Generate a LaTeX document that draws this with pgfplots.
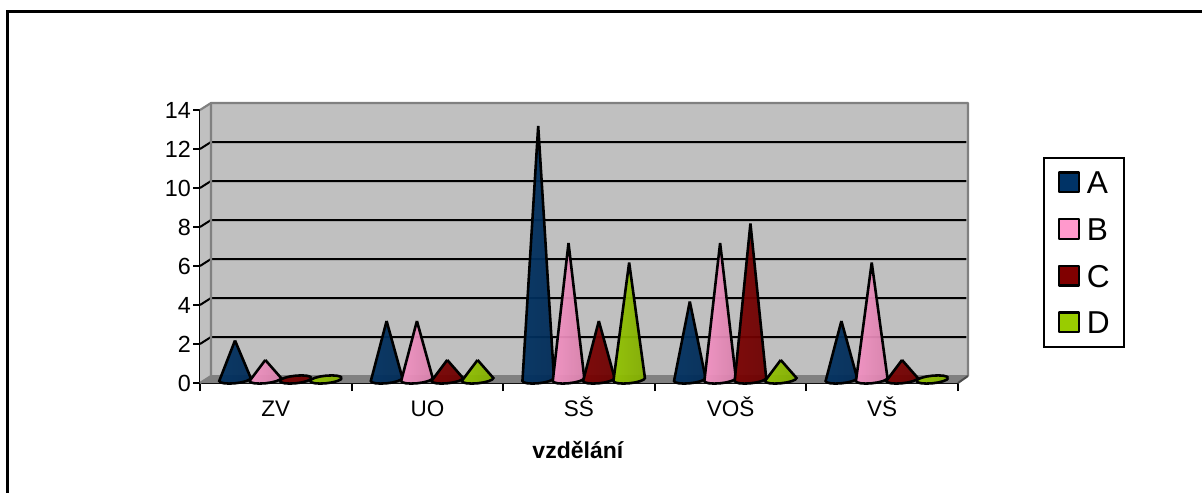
\documentclass[border=0pt]{standalone}
\usepackage{pgfplots}
\pgfplotsset{compat=1.18}
\usepackage{fontspec}
\setmainfont{Liberation Sans}
\definecolor{cA}{HTML}{003366}
\definecolor{cB}{HTML}{FF99CC}
\definecolor{cC}{HTML}{800000}
\definecolor{cD}{HTML}{99CC00}
\definecolor{wall}{HTML}{C0C0C0}
\definecolor{edge}{HTML}{808080}
% a cone: group, position in the group, value, colour
\newcommand\cone[4]{%
  \pgfmathsetmacro\cx{#1+0.2309+0.2*#2}%
  \pgfmathsetmacro\cy{#3+0.18}%
  \gdef\conepath{}%
  \ifdim #3pt=0pt \def\tend{360}\else \def\tend{180}\fi
  \pgfplotsforeachungrouped \t in {0,22.5,...,\tend}{%
    \pgfmathsetmacro\px{\cx+0.104*cos(\t)}%
    \pgfmathsetmacro\py{0.18-0.195*sin(\t)+0.077*cos(\t)}%
    \xdef\conepath{\conepath (\px,\py)}%
  }%
  \ifdim #3pt=0pt
    \edef\tmp{\noexpand\addplot[forget plot,line width=1.55pt,line join=round,draw=black,left color=#4!95!black,middle color=#4!88!white,right color=#4!85!black,fill opacity=0.94] coordinates {\conepath};}%
  \else
    \edef\tmp{\noexpand\addplot[forget plot,line width=1.55pt,line join=miter,miter limit=2,draw=black,left color=#4!95!black,middle color=#4!88!white,right color=#4!85!black,fill opacity=0.94] coordinates {(\cx,\cy) \conepath (\cx,\cy)};}%
  \fi
  \tmp
}
\begin{document}
\begin{tikzpicture}
\path[use as bounding box] (0,0) rectangle (721.2pt,295.2pt);
\draw[black,line width=1.7pt] (4.5pt,-1pt) -- (4.5pt,288.3pt) -- (722pt,288.3pt);
\begin{axis}[
  at={(120pt,65.4pt)},anchor=south west,
  scale only axis,width=454.8pt,height=163.8pt,
  xmin=0,xmax=5,ymin=0,ymax=14,clip=false,
  axis x line=bottom,axis y line=left,
  axis line style={-,black,line width=1.5pt},
  tick align=outside,
  xtick={0.5,1.5,2.5,3.5,4.5},
  xticklabels={ZV,UO,SŠ,VOŠ,VŠ},
  minor xtick={0,1,2,3,4,5},
  ytick={0,2,4,6,8,10,12,14},
  major tick length=4.2pt,minor tick length=4.8pt,
  every tick/.style={black,line width=1.25pt},
  major x tick style={draw=none},
  yticklabel style={font=\fontsize{14}{16}\selectfont,xshift=2.2pt,/pgf/number format/assume math mode=true},
  xticklabel style={font=\fontsize{13.5}{16}\selectfont,text height=13pt,text depth=0pt,yshift=0.5pt},
  xlabel={\fontsize{13.8}{15}\selectfont\bfseries vzdělání},
  x label style={at={(axis description cs:0.4985,-0.247)},anchor=center},
  legend style={at={(1.112,0.828)},anchor=north west,draw=black,line width=1.25pt,
    inner xsep=8.5pt,inner ysep=7.8pt,
    font=\fontsize{19}{19}\selectfont,
    /tikz/column sep=4.2pt,/tikz/row sep=14.4pt,
    nodes={inner sep=0pt,text height=13.6pt,text depth=0pt}},
  legend cell align=left,
  legend image code/.code={\draw[#1,draw=black,line width=1.25pt,line join=round] (0.6pt,-5.9pt) rectangle (12.4pt,5.9pt);},
]
% walls and floor
\addplot[forget plot,fill=wall,draw=none] coordinates {(0.0726,0.359)(5.066,0.359)(5.066,14.359)(0.0726,14.359)(0.0726,0.359)};
\addplot[forget plot,fill=wall,draw=none] coordinates {(0,0)(0.0726,0.359)(0.0726,14.359)(0,14)(0,0)};
\addplot[forget plot,fill=edge,draw=none] coordinates {(0,0)(5,0)(5.066,0.359)(0.0726,0.359)(0,0)};
% grid lines
\addplot[forget plot,black,line width=1.2pt] coordinates {(0,2)(0.0726,2.359)(5.055,2.359)};
\addplot[forget plot,black,line width=1.2pt] coordinates {(0,4)(0.0726,4.359)(5.055,4.359)};
\addplot[forget plot,black,line width=1.2pt] coordinates {(0,6)(0.0726,6.359)(5.055,6.359)};
\addplot[forget plot,black,line width=1.2pt] coordinates {(0,8)(0.0726,8.359)(5.055,8.359)};
\addplot[forget plot,black,line width=1.2pt] coordinates {(0,10)(0.0726,10.359)(5.055,10.359)};
\addplot[forget plot,black,line width=1.2pt] coordinates {(0,12)(0.0726,12.359)(5.055,12.359)};
% wall edges
\addplot[forget plot,edge,line width=1.3pt,line join=round] coordinates {(0,14)(0.0726,14.359)(5.066,14.359)(5.066,0.359)};
\addplot[forget plot,edge,line width=1.3pt] coordinates {(0.0726,14.359)(0.0726,0.359)(0,0)};
\addplot[forget plot,edge,line width=1.3pt] coordinates {(0.0726,0.359)(5.066,0.359)};
\addplot[forget plot,black!70,line width=1.2pt] coordinates {(5,0)(5.066,0.359)};
% series A
\cone{0}{0}{2}{cA}\cone{1}{0}{3}{cA}\cone{2}{0}{13}{cA}\cone{3}{0}{4}{cA}\cone{4}{0}{3}{cA}
% series B
\cone{0}{1}{1}{cB}\cone{1}{1}{3}{cB}\cone{2}{1}{7}{cB}\cone{3}{1}{7}{cB}\cone{4}{1}{6}{cB}
% series C
\cone{0}{2}{0}{cC}\cone{1}{2}{1}{cC}\cone{2}{2}{3}{cC}\cone{3}{2}{8}{cC}\cone{4}{2}{1}{cC}
% series D
\cone{0}{3}{0}{cD}\cone{1}{3}{1}{cD}\cone{2}{3}{6}{cD}\cone{3}{3}{1}{cD}\cone{4}{3}{0}{cD}
\addlegendimage{fill=cA}\addlegendentry{A}
\addlegendimage{fill=cB}\addlegendentry{B}
\addlegendimage{fill=cC}\addlegendentry{C}
\addlegendimage{fill=cD}\addlegendentry{D}
\end{axis}
\end{tikzpicture}
\end{document}
